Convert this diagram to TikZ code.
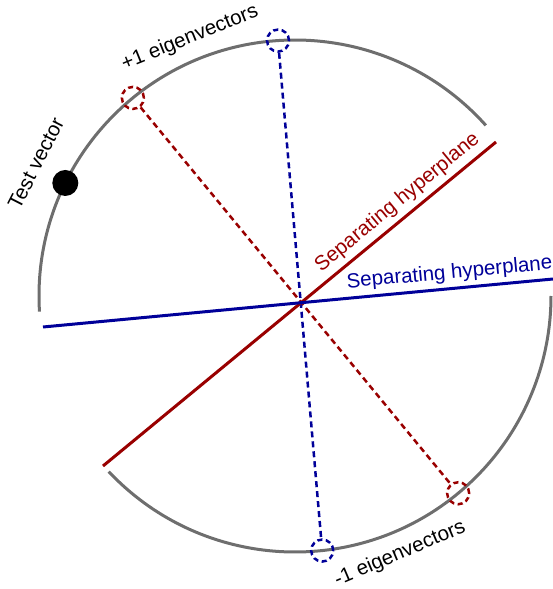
\documentclass[tikz,border=0pt]{standalone}
\usepackage{fontspec}
\setmainfont{Liberation Sans}
\usepackage{xcolor,tikz}
\definecolor{hypred}{RGB}{153,0,0}
\definecolor{hypblue}{RGB}{0,0,153}
\definecolor{spheregray}{RGB}{110,110,110}

\begin{document}
\begin{tikzpicture}[x=1pt,y=1pt,
  every node/.style={font=\fontsize{20.5}{24}\selectfont},
  eig/.style={circle,draw,line width=2.5pt,dash pattern=on 5pt off 3.5pt,minimum size=22pt,inner sep=0pt},
  plane/.style={line width=3pt},
  proj/.style={line width=2.5pt,dash pattern=on 6pt off 4pt}]
\useasboundingbox (-295,-293) rectangle (258,296);
% the sphere, two arcs
\draw[spheregray,line width=3pt] (183.5:256) arc (183.5:41.8:256);
\draw[spheregray,line width=3pt] (223.3:256) arc (223.3:360:256);
% eigenvector markers
\node[eig,color=hypred] (rp) at (129.3:256) {};
\node[eig,color=hypred] (rm) at (309.6:256) {};
\node[eig,color=hypblue] (bp) at (93.8:256) {};
\node[eig,color=hypblue] (bm) at (276.1:256) {};
\draw[proj,color=hypred] (rp) -- (rm);
\draw[proj,color=hypblue] (bp) -- (bm);
% hyperplanes
\coordinate (ra) at (-192,-170);
\coordinate (rb) at (201,154);
\coordinate (ba) at (-252,-31);
\coordinate (bb) at (258,17);
\draw[plane,color=hypred] (ra) -- (rb)
  node[pos=0.775,above=1.5pt,sloped] (rlbl) {Separating hyperplane};
\draw[plane,color=hypblue] (ba) -- (bb)
  node[pos=0.8,above=1pt,sloped] (blbl) {Separating hyperplane};
% test vector
\node[circle,fill=black,minimum size=26pt,inner sep=0pt] (test) at (153.8:256) {};
\node[rotate=63] (testlbl) at (-259,133) {Test vector};
\node[rotate=22] (plbl) at (-105,258) {+1 eigenvectors};
\node[rotate=23] (mlbl) at (105,-258) {-1 eigenvectors};
\end{tikzpicture}
\end{document}
